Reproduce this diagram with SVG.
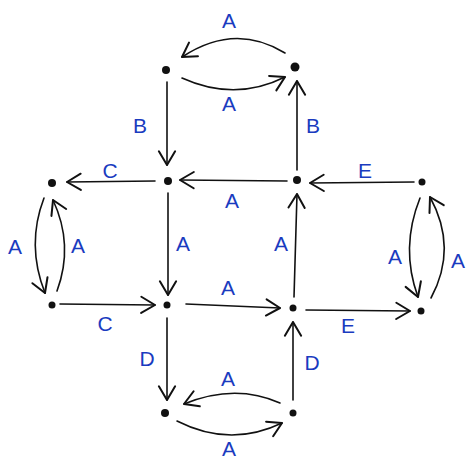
<svg xmlns="http://www.w3.org/2000/svg" width="466" height="458" viewBox="0 0 466 458">
<defs>
<marker id="arr" markerUnits="userSpaceOnUse" markerWidth="20" markerHeight="20" refX="0" refY="0" viewBox="-12 -8 14 16" orient="auto" overflow="visible">
<path d="M -11 -6.5 L 0 0 L -11 6.5" fill="none" stroke="#111" stroke-width="1.6" stroke-linecap="round" stroke-linejoin="round"/>
</marker>
<style>
.e{fill:none;stroke:#111;stroke-width:1.6;stroke-linecap:round;marker-end:url(#arr)}
.n{fill:#111}
.l{font-family:"Liberation Sans",Arial,sans-serif;font-size:21px;fill:#1a3bbf;text-anchor:middle;dominant-baseline:central}
</style>
</defs>
<rect width="466" height="458" fill="#fff"/>
<g id="connectors">
<path class="e" d="M285,53 Q235,22 182,57"/>
<path class="e" d="M182,78 Q235,102 285,77"/>
<path class="e" d="M167,82 L167,165"/>
<path class="e" d="M297,170 L297,81"/>
<path class="e" d="M155,181 L67,182"/>
<path class="e" d="M287,181 L180,180"/>
<path class="e" d="M414,182 L310,183"/>
<path class="e" d="M168,193 L168,295"/>
<path class="e" d="M294,297 L297,194"/>
<path class="e" d="M44,198 Q26,245 45,293"/>
<path class="e" d="M57,291 Q74,245 53,200"/>
<path class="e" d="M420,198 Q400,248 418,297"/>
<path class="e" d="M431,298 Q458,248 430,197"/>
<path class="e" d="M60,304 L155,305"/>
<path class="e" d="M186,304 L280,308"/>
<path class="e" d="M306,310 L410,311"/>
<path class="e" d="M167,318 L167,400"/>
<path class="e" d="M293,400 L293,322"/>
<path class="e" d="M280,403 Q235,383 184,404"/>
<path class="e" d="M177,421 Q230,448 282,423"/>
</g>
<g id="n1"><circle class="n" cx="166" cy="70" r="4"/></g>
<g id="n2"><circle class="n" cx="295" cy="67" r="4.5"/></g>
<g id="n3"><circle class="n" cx="52" cy="183" r="4"/></g>
<g id="n4"><circle class="n" cx="168" cy="181" r="4"/></g>
<g id="n5"><circle class="n" cx="297" cy="180" r="4"/></g>
<g id="n6"><circle class="n" cx="422" cy="182" r="3.5"/></g>
<g id="n7"><circle class="n" cx="52" cy="305" r="3.5"/></g>
<g id="n8"><circle class="n" cx="167" cy="305" r="3.5"/></g>
<g id="n9"><circle class="n" cx="293" cy="308" r="3.5"/></g>
<g id="n10"><circle class="n" cx="421" cy="311" r="3.5"/></g>
<g id="n11"><circle class="n" cx="165" cy="413" r="4"/></g>
<g id="n12"><circle class="n" cx="293" cy="413" r="3.5"/></g>
<g id="labels">
<text class="l" x="229" y="20">A</text>
<text class="l" x="229" y="103">A</text>
<text class="l" x="140" y="125">B</text>
<text class="l" x="313" y="125">B</text>
<text class="l" x="110" y="170">C</text>
<text class="l" x="232" y="200">A</text>
<text class="l" x="365" y="170">E</text>
<text class="l" x="15" y="246">A</text>
<text class="l" x="78" y="245">A</text>
<text class="l" x="183" y="243">A</text>
<text class="l" x="281" y="243">A</text>
<text class="l" x="395" y="256">A</text>
<text class="l" x="458" y="260">A</text>
<text class="l" x="105" y="323">C</text>
<text class="l" x="228" y="287">A</text>
<text class="l" x="348" y="325">E</text>
<text class="l" x="147" y="358">D</text>
<text class="l" x="312" y="362">D</text>
<text class="l" x="228" y="378">A</text>
<text class="l" x="229" y="448">A</text>
</g>
</svg>
